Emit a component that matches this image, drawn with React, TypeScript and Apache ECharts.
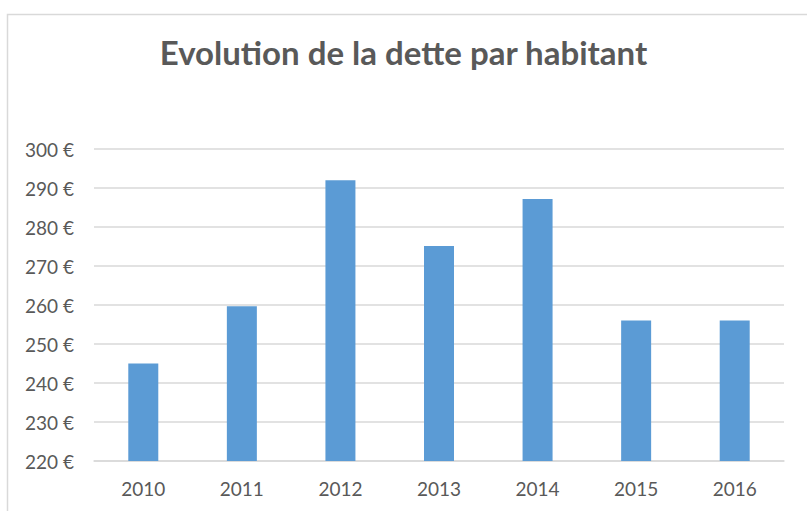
import React, { useEffect, useRef } from "react";
import * as echarts from "echarts";

const years = ["2010", "2011", "2012", "2013", "2014", "2015", "2016"];
const dette = [245, 259.7, 292, 275.1, 287.2, 256, 256];
const yMin = 220;
const yMax = 300;
const yStep = 10;
const titleText = "Evolution de la dette par habitant";

export default function App() {
  const ref = useRef<HTMLDivElement>(null);
  useEffect(() => {
    if (!ref.current) return;
    const chart = echarts.init(ref.current, null, { renderer: "svg" });
    chart.setOption({
      animation: false,
      backgroundColor: "#ffffff",
      title: {
        text: titleText,
        left: "center",
        top: 30,
        textStyle: {
          fontFamily: "Lato",
          fontWeight: "bold",
          fontSize: 33,
          color: "#595959",
        },
      },
      graphic: [
        {
          type: "rect",
          shape: { x: 7.5, y: 14.5, width: 900, height: 600 },
          style: { fill: "none", stroke: "#D9D9D9", lineWidth: 1.5 },
          silent: true,
        },
      ],
      grid: { left: 94, right: 23, top: 149, bottom: 50 },
      xAxis: {
        type: "category",
        data: years,
        axisLine: { lineStyle: { color: "#D9D9D9", width: 1.5 } },
        axisTick: { show: false },
        axisLabel: {
          color: "#595959",
          fontFamily: "Lato",
          fontSize: 19,
          margin: 18,
        },
      },
      yAxis: {
        type: "value",
        min: yMin,
        max: yMax,
        interval: yStep,
        axisLine: { show: false },
        axisTick: { show: false },
        splitLine: { lineStyle: { color: "#D9D9D9", width: 1.5 } },
        axisLabel: {
          color: "#595959",
          fontFamily: "Lato",
          fontSize: 19,
          margin: 20,
          formatter: "{value} €",
        },
      },
      series: [
        {
          type: "bar",
          data: dette,
          barWidth: 30,
          itemStyle: { color: "#5B9BD5" },
        },
      ],
    });
    return () => chart.dispose();
  }, []);
  return (
    <div
      ref={ref}
      style={{ position: "fixed", left: 0, top: 0, width: 807, height: 511 }}
    />
  );
}
